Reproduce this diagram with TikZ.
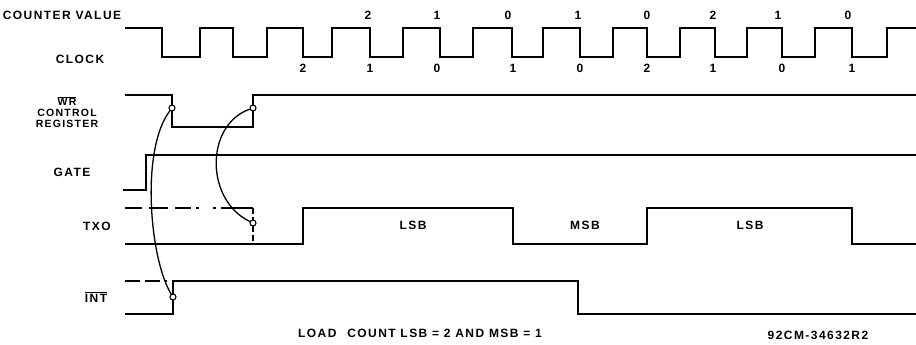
\documentclass[tikz,border=0pt]{standalone}
\usepackage{fontspec}
\setmainfont{Liberation Sans}[LetterSpace=12]
\tikzset{
  sig/.style={line width=2.2pt, line join=miter},
  lbl/.style={font=\fontsize{12}{13}\selectfont\bfseries, inner sep=0pt, align=center},
  sml/.style={font=\fontsize{10.5}{11.5}\selectfont\bfseries, inner sep=0pt, align=center},
  num/.style={font=\fontsize{12}{13}\selectfont\bfseries, inner sep=0pt},
  ring/.style={circle, draw, line width=1.1pt, fill=white, minimum size=6pt, inner sep=0pt},
  link/.style={line width=1.3pt},
  dashsig/.style={line width=2.2pt, dash pattern=on 15pt off 5pt},
}
\begin{document}
\begin{tikzpicture}[x=1pt,y=-1pt]
\useasboundingbox (0,0) rectangle (916,345);
% labels
\node[lbl] (lcv) at (62,15) {COUNTER VALUE};
\node[lbl] (lclk) at (80,59) {CLOCK};
\node[sml] (lwr) at (67,112) {$\overline{\hbox{WR}}$\\[-1pt]CONTROL\\REGISTER};
\node[lbl] (lgate) at (72,172) {GATE};
\node[lbl] (ltxo) at (97,226) {TXO};
\node[lbl] (lint) at (96,297) {$\overline{\hbox{INT}}$};
% clock
\draw[sig] (125,28) foreach \f/\r in {162/200,233/267,303/332,370/403,440/473,512/543,580/613,647/680,715/747,782/815,852/887}
  { -- (\f,28) -- (\f,57) -- (\r,57) -- (\r,28) } -- (916,28);
% counter values above
\foreach \x/\v [count=\i] in {368/2,437/1,508/0,578/1,647/0,713/2,778/1,848/0}
  \node[num] (up\i) at (\x,15) {\v};
\foreach \x/\v [count=\i] in {303/2,370/1,437/0,513/1,580/0,647/2,713/1,782/0,852/1}
  \node[num] (dn\i) at (\x,68) {\v};
% WR
\draw[sig] (125,95) -- (172,95) -- (172,127) -- (253,127) -- (253,95) -- (916,95);
% GATE
\draw[sig] (123,190) -- (146,190) -- (146,155) -- (916,155);
% TXO
\draw[line width=2.2pt, dash pattern=on 17pt off 7pt on 19pt off 7pt on 16pt off 5pt on 3pt off 14pt on 3pt off 5pt on 40pt] (125,208) -- (253,208);
\draw[line width=1.8pt, dash pattern=on 6pt off 3pt] (253,208) -- (253,244);
\draw[sig] (125,244) -- (303,244) -- (303,208) -- (513,208) -- (513,244) -- (647,244) -- (647,208) -- (852,208) -- (852,244) -- (916,244);
\node[lbl] (lsb1) at (413,225) {LSB};
\node[lbl] (msb) at (585,225) {MSB};
\node[lbl] (lsb2) at (750,225) {LSB};
% INT
\draw[dashsig] (125,281) -- (167,281);
\draw[sig] (125,314) -- (173,314) -- (173,281) -- (578,281) -- (578,314) -- (916,314);
% rings
\node[ring] (wr1) at (172,108) {};
\node[ring] (wr2) at (253,108) {};
\node[ring] (tx) at (253,223) {};
\node[ring] (in) at (173,297) {};
% links
\draw[link] (wr1) .. controls (140,150) and (150,260) .. (in);
\draw[link] (wr2) .. controls (205,125) and (205,200) .. (tx);
% bottom texts
\node[lbl] (load) at (420,333) {LOAD\hspace{6pt} COUNT LSB = 2 AND MSB = 1};
\node[lbl] (code) at (818,335) {92CM-34632R2};
\end{tikzpicture}
\end{document}
